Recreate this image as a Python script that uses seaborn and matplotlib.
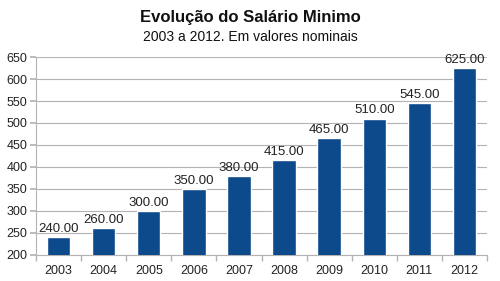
import numpy as np
import pandas as pd
import matplotlib
matplotlib.use("Agg")
import matplotlib.pyplot as plt
import seaborn as sns

# ── Data ──────────────────────────────────────────────────────────────────────
years = ["2003", "2004", "2005", "2006", "2007", "2008", "2009", "2010", "2011", "2012"]
salario = [240, 260, 300, 350, 380, 415, 465, 510, 545, 625]

df = pd.DataFrame({"ano": years, "valor": salario})

BAR_COLOR = "#0c4a8c"
GRID_COLOR = "#b3b3b3"

sns.set_theme(style="white")
plt.rcParams["font.family"] = ["Liberation Sans", "DejaVu Sans"]

fig = plt.figure(figsize=(5.0, 2.81), dpi=100)
ax = fig.add_axes([0.072, 0.093, 0.902, 0.704])

sns.barplot(data=df, x="ano", y="valor", color=BAR_COLOR, width=0.52,
            saturation=1, ax=ax, zorder=3)

for i, v in enumerate(salario):
    ax.text(i, v + 5, f"{v:.2f}", ha="center", va="bottom",
            fontsize=9.5, color="#222222", zorder=4)

ax.set_ylim(200, 650)
ax.set_yticks(np.arange(200, 651, 50))
ax.set_xlim(-0.5, len(years) - 0.5)
ax.yaxis.grid(True, color=GRID_COLOR, linewidth=0.8, zorder=0)
ax.set_axisbelow(True)
ax.set_xlabel("")
ax.set_ylabel("")

ax.set_xticks(np.arange(len(years) + 1) - 0.5, minor=True)
ax.tick_params(axis="x", which="major", length=0, labelsize=9, pad=7, colors="#222222")
ax.tick_params(axis="x", which="minor", bottom=True, length=4, color=GRID_COLOR)
ax.tick_params(axis="y", labelsize=9, left=True, length=4, color=GRID_COLOR,
               pad=2, colors="#222222")

for side in ["top", "right"]:
    ax.spines[side].set_visible(False)
for side in ["left", "bottom"]:
    ax.spines[side].set_color(GRID_COLOR)
    ax.spines[side].set_linewidth(0.8)

fig.text(0.5, 0.965, "Evolução do Salário Minimo", ha="center", va="top",
         fontsize=12, fontweight="bold", color="#111111")
fig.text(0.5, 0.895, "2003 a 2012. Em valores nominais", ha="center", va="top",
         fontsize=10, color="#111111")

fig.savefig("out.png", dpi=100, facecolor="white")
